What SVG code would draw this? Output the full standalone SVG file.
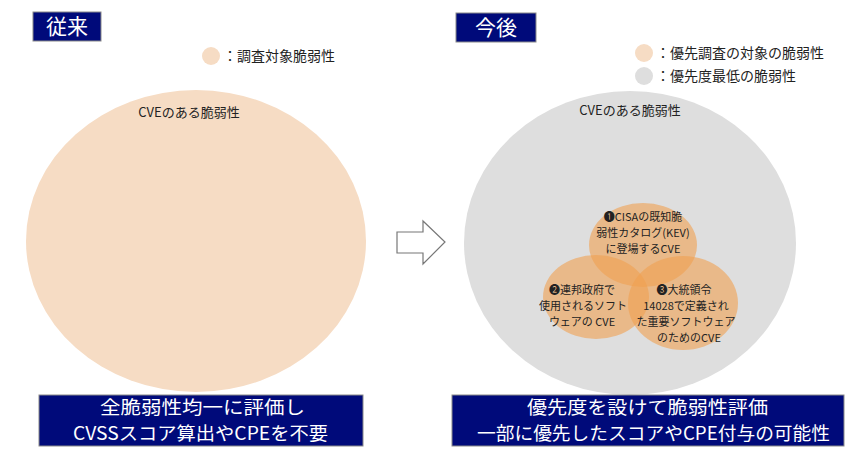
<svg xmlns="http://www.w3.org/2000/svg" width="850" height="450" viewBox="0 0 850 450">
<style>
text{font-family:"Noto Sans CJK JP","Noto Sans",sans-serif;}
.ttl{fill:#000a7a;stroke:#8a8a8a;stroke-width:1}
.wt{fill:#fff;text-anchor:middle}
.lg{font-size:14px;fill:#222}
.cv{font-size:13px;fill:#222;text-anchor:middle}
.sm{font-size:11px;fill:#222;text-anchor:middle}
.oc{fill:#f0a050;fill-opacity:0.6}
.bt{font-size:18px;fill:#fff}
</style>
<rect width="850" height="450" fill="#fff"/>
<g id="title-left"><rect class="ttl" x="33" y="12" width="68" height="29"/><text class="wt" x="67" y="34" font-size="21">従来</text></g>
<g id="title-right"><rect class="ttl" x="456" y="13" width="80" height="29"/><text class="wt" x="496" y="35" font-size="21">今後</text></g>
<g id="legend-left"><circle cx="211" cy="56" r="9" fill="#f6dcc4"/><text class="lg" x="223" y="61">：調査対象脆弱性</text></g>
<g id="legend-right1"><circle cx="644" cy="53" r="9" fill="#f6dcc4"/><text class="lg" x="656" y="58">：優先調査の対象の脆弱性</text></g>
<g id="legend-right2"><circle cx="644" cy="76" r="9" fill="#dedede"/><text class="lg" x="656" y="81">：優先度最低の脆弱性</text></g>
<g id="cve-left"><ellipse cx="196" cy="241" rx="170" ry="151" fill="#f6dcc4"/><text class="cv" x="189" y="117">CVEのある脆弱性</text></g>
<g id="cve-right"><ellipse cx="630" cy="243" rx="166" ry="152" fill="#dedede"/><text class="cv" x="630" y="115">CVEのある脆弱性</text></g>
<g id="kev"><ellipse class="oc" cx="643" cy="245" rx="54" ry="42"/></g>
<g id="fed"><ellipse class="oc" cx="596" cy="297" rx="53" ry="42"/></g>
<g id="eo"><ellipse class="oc" cx="683" cy="303" rx="55" ry="47"/></g>
<g id="labels">
<text class="sm" x="643" y="221">❶CISAの既知脆</text>
<text class="sm" x="643" y="237">弱性カタログ(KEV)</text>
<text class="sm" x="643" y="253">に登場するCVE</text>
<text class="sm" x="582" y="294">❷連邦政府で</text>
<text class="sm" x="583" y="310">使用されるソフト</text>
<text class="sm" x="582" y="326">ウェアの CVE</text>
<text class="sm" x="684" y="294">❸大統領令</text>
<text class="sm" x="686" y="310">14028で定義され</text>
<text class="sm" x="686" y="326">た重要ソフトウェア</text>
<text class="sm" x="689" y="342">のためのCVE</text>
</g>
<g id="connectors"><polygon points="397,232 423,232 423,221 445,242 423,264 423,253 397,253" fill="#fff" stroke="#777" stroke-width="1.2"/></g>
<g id="summary-left"><rect class="ttl" x="39" y="395" width="324" height="51"/><text class="bt" x="100" y="414" textLength="205" lengthAdjust="spacingAndGlyphs">全脆弱性均一に評価し</text><text class="bt" x="73" y="440" textLength="255" lengthAdjust="spacingAndGlyphs">CVSSスコア算出やCPEを不要</text></g>
<g id="summary-right"><rect class="ttl" x="452" y="395" width="392" height="51"/><text class="bt" x="527" y="414" textLength="241" lengthAdjust="spacingAndGlyphs">優先度を設けて脆弱性評価</text><text class="bt" x="477" y="440" textLength="353" lengthAdjust="spacingAndGlyphs">一部に優先したスコアやCPE付与の可能性</text></g>
</svg>
